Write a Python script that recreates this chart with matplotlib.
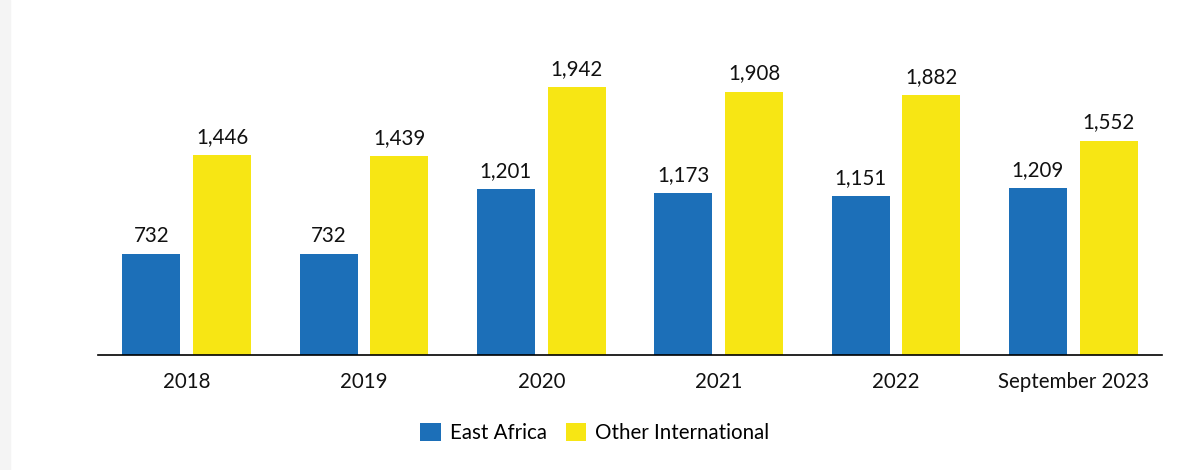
import numpy as np
import matplotlib.pyplot as plt
from matplotlib.patches import Rectangle

plt.rcParams['font.family'] = ['Lato', 'DejaVu Sans']

# Data
years = ['2018', '2019', '2020', '2021', '2022', 'September 2023']
east_africa = [732, 732, 1201, 1173, 1151, 1209]
other_intl = [1446, 1439, 1942, 1908, 1882, 1552]

blue = '#1c6fb8'
yellow = '#f7e614'
fs = 14.8

fig = plt.figure(figsize=(11.79, 4.70), dpi=100)
fig.patches.append(Rectangle((0, 0), 10 / 1179, 1, transform=fig.transFigure,
                             color='#f4f4f4', zorder=0))

ax = fig.add_axes([98 / 1179, 115 / 470, 1064 / 1179, 315 / 470])

x = np.arange(len(years))
w = 0.327
b1 = ax.bar(x - 0.2, east_africa, w, color=blue, label='East Africa')
b2 = ax.bar(x + 0.2, other_intl, w, color=yellow, label='Other International')

for bars, vals in ((b1, east_africa), (b2, other_intl)):
    for bar, v in zip(bars, vals):
        ax.annotate(f'{v:,}', (bar.get_x() + bar.get_width() / 2, v),
                    xytext=(0, 6), textcoords='offset points',
                    ha='center', va='bottom', fontsize=fs, color='#111111')

ax.set_xlim(-0.5, len(years) - 0.5)
ax.set_ylim(0, 2283)
ax.set_xticks(x)
ax.set_xticklabels(years, fontsize=fs, color='#111111')
ax.tick_params(axis='x', length=0, pad=12)
ax.set_yticks([])
for s in ['top', 'right', 'left']:
    ax.spines[s].set_visible(False)
ax.spines['bottom'].set_linewidth(1.2)
ax.spines['bottom'].set_color('black')

fig.legend(handles=[b1, b2], loc='center', bbox_to_anchor=(595 / 1179, 1 - 433 / 470),
           ncol=2, frameon=False, fontsize=fs, handlelength=1.0, handleheight=1.0,
           handletextpad=0.45, columnspacing=0.9)

fig.savefig('out.png', dpi=100)
